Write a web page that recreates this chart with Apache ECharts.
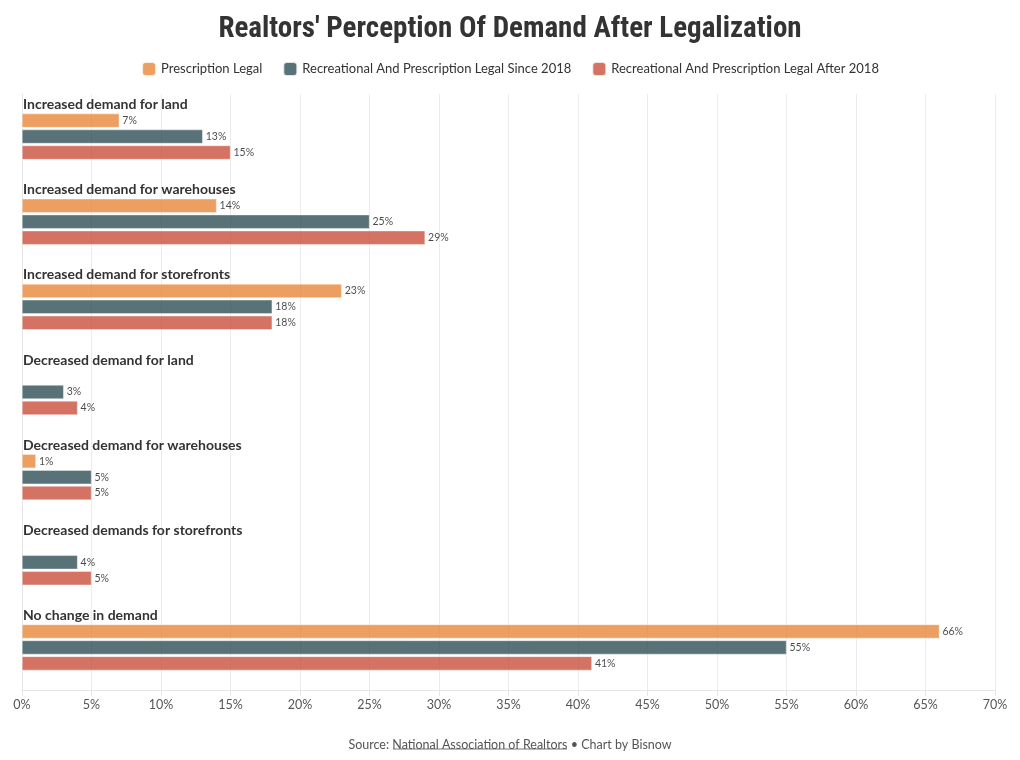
<!DOCTYPE html>
<html>
<head>
<meta charset="utf-8">
<script src="https://cdn.jsdelivr.net/npm/echarts@6/dist/echarts.min.js"></script>
<style>
  html, body { margin: 0; padding: 0; background: #fff; }
  #chart { width: 1020px; height: 760px; }
</style>
</head>
<body>
<div id="chart"></div>
<script>
const categories = [
  'Increased demand for land',
  'Increased demand for warehouses',
  'Increased demand for storefronts',
  'Decreased demand for land',
  'Decreased demand for warehouses',
  'Decreased demands for storefronts',
  'No change in demand'
];
const seriesNames = [
  'Prescription Legal',
  'Recreational And Prescription Legal Since 2018',
  'Recreational And Prescription Legal After 2018'
];
const prescriptionLegal = [7, 14, 23, null, 1, null, 66];
const legalSince2018 = [13, 25, 18, 3, 5, 4, 55];
const legalAfter2018 = [15, 29, 18, 4, 5, 5, 41];
const colors = ['#E8873A', '#2F4F55', '#C9503C'];

const font = 'Lato, "Noto Sans", sans-serif';
const chart = echarts.init(document.getElementById('chart'));

function mk(name, data, color) {
  return {
    name: name,
    type: 'bar',
    data: data,
    barWidth: 14,
    barGap: '14%',
    itemStyle: { color: color, opacity: 0.8, borderColor: '#fff', borderWidth: 0.5 },
    label: {
      show: true,
      position: 'right',
      distance: 3,
      fontFamily: font,
      fontSize: 10.5,
      color: '#1a1a1a',
      formatter: p => (p.value == null ? '' : p.value + '%')
    },
    emphasis: { disabled: true }
  };
}

chart.setOption({
  animation: false,
  textStyle: { fontFamily: font },
  title: [{
    text: "Realtors' Perception Of Demand After Legalization",
    left: 'center',
    top: 10,
    textStyle: {
      fontFamily: '"Liberation Sans Narrow", "Roboto Condensed", Roboto, sans-serif',
      fontSize: 29,
      fontWeight: 'bold',
      color: '#333'
    }
  }, {
    text: '{a|Source: }{b|National Association of Realtors}{a| • Chart by Bisnow}',
    left: 'center',
    top: 733,
    textStyle: {
      fontWeight: 'normal',
      rich: {
        a: { fontFamily: font, fontSize: 12.5, color: '#555', fontWeight: 'normal' },
        b: { fontFamily: font, fontSize: 12.5, color: '#555', fontWeight: 'normal' }
      }
    }
  }],
  graphic: [{
    type: 'line',
    shape: { x1: 393, y1: 749, x2: 567, y2: 749 },
    style: { stroke: '#777', lineWidth: 1 }
  }],
  legend: {
    top: 56,
    left: 'center',
    itemWidth: 14,
    itemHeight: 14,
    itemGap: 20,
    icon: 'roundRect',
    textStyle: { fontFamily: font, fontSize: 13, color: '#333' },
    data: seriesNames
  },
  color: colors,
  grid: { left: 22, right: 25, top: 94, bottom: 70, containLabel: false },
  xAxis: {
    type: 'value',
    min: 0,
    max: 70,
    interval: 5,
    axisLine: { show: true, lineStyle: { color: '#e6e6e6' } },
    axisTick: { show: true, length: 6, lineStyle: { color: '#e6e6e6' } },
    splitLine: { show: true, lineStyle: { color: '#ececec' } },
    axisLabel: { formatter: '{value}%', color: '#555', fontSize: 12.5, fontFamily: font, margin: 8 }
  },
  yAxis: {
    type: 'category',
    inverse: true,
    data: categories,
    axisLine: { show: true, lineStyle: { color: '#e6e6e6' } },
    axisTick: { show: false },
    axisLabel: {
      inside: true,
      margin: 1,
      align: 'left',
      verticalAlign: 'middle',
      formatter: v => '{t|' + v + '}\n{s|}',
      rich: {
        t: { fontFamily: font, fontSize: 14, fontWeight: 'bold', color: '#333', lineHeight: 16 },
        s: { lineHeight: 64, fontSize: 1 }
      }
    }
  },
  series: [
    mk(seriesNames[0], prescriptionLegal, colors[0]),
    mk(seriesNames[1], legalSince2018, colors[1]),
    mk(seriesNames[2], legalAfter2018, colors[2])
  ]
});
</script>
</body>
</html>
